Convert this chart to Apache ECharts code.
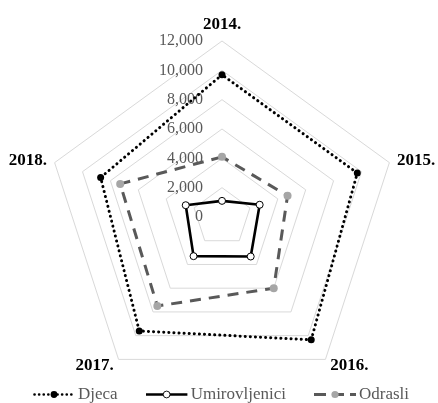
<!DOCTYPE html>
<html>
<head>
<meta charset="utf-8">
<script src="https://cdn.jsdelivr.net/npm/echarts@6/dist/echarts.min.js"></script>
<style>
  html, body { margin: 0; padding: 0; background: #fff; }
  #chart { width: 438px; height: 403px; }
</style>
</head>
<body>
<div id="chart"></div>
<script>
// Years shown on the radar spokes (clockwise from the top)
const years = ['2014.', '2015.', '2016.', '2017.', '2018.'];
// Values per group and year
const djeca = [9700, 9700, 10350, 9600, 8700];
const umirovljenici = [1100, 2700, 3330, 3300, 2600];
const odrasli = [4100, 4700, 6000, 7500, 7300];
const seriesNames = ['Djeca', 'Umirovljenici', 'Odrasli'];
const axisMax = 12000;
const axisStep = 2000;

const FONT = 'Liberation Serif';

// ECharts lays radar indicators out counter-clockwise, so walk the years in
// reverse after the first one to get a clockwise layout.
const order = [0].concat(years.map((_, i) => i).slice(1).reverse());
const pick = arr => order.map(i => arr[i]);

const fmt = v => String(v).replace(/\B(?=(\d{3})+(?!\d))/g, ',');

function svgIcon(body) {
  const svg = '<svg xmlns="http://www.w3.org/2000/svg" width="42" height="10" viewBox="0 0 42 10">' + body + '</svg>';
  return 'image://data:image/svg+xml;charset=utf-8,' + encodeURIComponent(svg);
}
const iconDjeca = svgIcon(
  '<line x1="1.5" y1="5" x2="41" y2="5" stroke="#000" stroke-width="2.6" stroke-linecap="round" stroke-dasharray="0.1 4.5"/>' +
  '<circle cx="21" cy="5" r="3.4" fill="#000"/>');
const iconUmir = svgIcon(
  '<line x1="0" y1="5" x2="42" y2="5" stroke="#000" stroke-width="2.6"/>' +
  '<circle cx="21" cy="5" r="3.4" fill="#fff" stroke="#000" stroke-width="0.9"/>');
const iconOdr = svgIcon(
  '<line x1="0" y1="5" x2="42" y2="5" stroke="#595959" stroke-width="3" stroke-dasharray="12 6"/>' +
  '<circle cx="21" cy="5" r="3.6" fill="#a6a6a6"/>');

const indicators = pick(years).map((name, k) => {
  const ind = { name: name, min: 0, max: axisMax };
  if (k === 0) ind.axisLabel = { show: true };
  return ind;
});

const option = {
  animation: false,
  backgroundColor: '#fff',
  legend: {
    top: 386,
    left: 33,
    padding: 0,
    itemWidth: 42,
    itemHeight: 10,
    itemGap: 28,
    textStyle: { fontFamily: FONT, fontSize: 17, color: '#595959', padding: [0, 0, 0, -2] },
    data: [
      { name: seriesNames[0], icon: iconDjeca },
      { name: seriesNames[1], icon: iconUmir },
      { name: seriesNames[2], icon: iconOdr }
    ]
  },
  radar: {
    center: [222, 217],
    radius: 176,
    startAngle: 90,
    splitNumber: axisMax / axisStep,
    shape: 'polygon',
    nameGap: 8,
    axisName: { color: '#000', fontFamily: FONT, fontSize: 17, fontWeight: 'bold' },
    axisLine: { show: false },
    axisTick: { show: false },
    splitArea: { show: false },
    splitLine: { lineStyle: { color: '#d9d9d9', width: 1 } },
    axisLabel: {
      show: false,
      margin: 19,
      color: '#595959',
      fontFamily: FONT,
      fontSize: 16,
      formatter: fmt
    },
    indicator: indicators
  },
  series: [{
    type: 'radar',
    data: [
      {
        name: seriesNames[0],
        value: pick(djeca),
        symbol: 'circle',
        symbolSize: 7,
        itemStyle: { color: '#000' },
        lineStyle: { color: '#000', width: 3, type: [0.1, 5], cap: 'round' }
      },
      {
        name: seriesNames[1],
        value: pick(umirovljenici),
        symbol: 'circle',
        symbolSize: 7,
        itemStyle: { color: '#fff', borderColor: '#000', borderWidth: 1 },
        lineStyle: { color: '#000', width: 2.6, type: 'solid' }
      },
      {
        name: seriesNames[2],
        value: pick(odrasli),
        symbol: 'circle',
        symbolSize: 8,
        itemStyle: { color: '#a6a6a6' },
        lineStyle: { color: '#595959', width: 3, type: [11, 8] }
      }
    ]
  }]
};

const chart = echarts.init(document.getElementById('chart'), null, { renderer: 'canvas' });
chart.setOption(option);
</script>
</body>
</html>
